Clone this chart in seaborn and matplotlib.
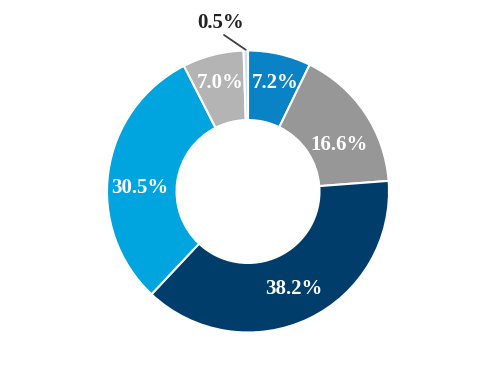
import matplotlib
matplotlib.use("Agg")
import matplotlib.pyplot as plt
import seaborn as sns
import numpy as np

labels = ["A", "B", "C", "D", "E", "F"]
values = [7.2, 16.6, 38.2, 30.5, 7.0, 0.5]
pct_labels = ["7.2%", "16.6%", "38.2%", "30.5%", "7.0%", "0.5%"]
colors = ["#0A82C6", "#979797", "#003D6B", "#00A5DF", "#B4B4B4", "#C8E0F5"]

sns.set_theme(style="white")
plt.rcParams['font.family'] = ['Liberation Serif', 'DejaVu Serif']

fig = plt.figure(figsize=(4.98, 3.84), dpi=100)
ax = fig.add_axes([0, 0, 1, 1])
R = 141.0
wedges, _ = ax.pie(values, colors=colors, startangle=90, counterclock=False,
                   radius=1.0, wedgeprops=dict(width=0.493, edgecolor="white", linewidth=1.5))
ax.set_xlim(-248 / R, 250 / R)
ax.set_ylim(-192.5 / R, 191.5 / R)
ax.set_aspect('auto')
ax.axis('off')

# per-label radial distance and angular nudge (degrees)
label_r = [0.813, 0.735, 0.744, 0.766, 0.815]
label_dang = [-0.6, -5.7, 0.1, 5.0, -0.3]
for w, lab, r, da in zip(wedges[:5], pct_labels[:5], label_r, label_dang):
    ang = np.deg2rad((w.theta1 + w.theta2) / 2 + da)
    ax.text(r * np.cos(ang), r * np.sin(ang), lab, ha="center", va="center_baseline",
            color="white", fontsize=15, fontweight="bold")

w = wedges[5]
ang = np.deg2rad((w.theta1 + w.theta2) / 2)
ax.plot([1.005 * np.cos(ang), -0.17], [1.005 * np.sin(ang), 1.11], color="#404040", lw=1.3)
ax.text(-0.191, 1.216, pct_labels[5], ha="center", va="center_baseline", color="#222222",
        fontsize=15, fontweight="bold")

fig.savefig("out.png", dpi=100)
